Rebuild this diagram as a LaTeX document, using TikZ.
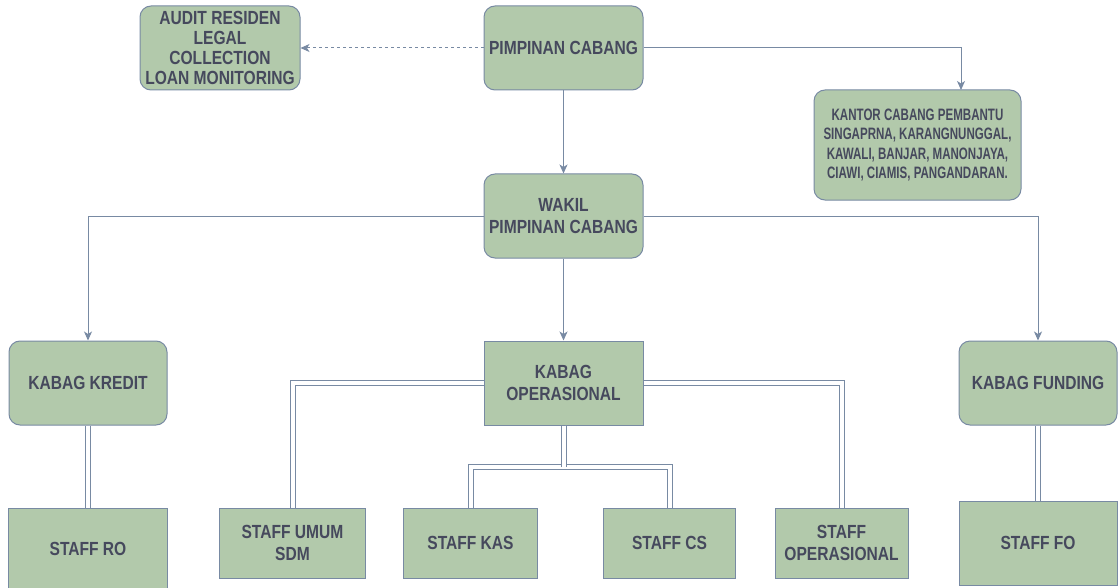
\documentclass[tikz,border=0pt]{standalone}
\usepackage{fontspec}
\setmainfont{Liberation Sans}[FakeStretch=0.82]
\newfontfamily\narrowsans{Liberation Sans}[FakeStretch=0.70]
\usetikzlibrary{arrows.meta}
\definecolor{boxfill}{HTML}{B2C9AB}
\definecolor{boxline}{HTML}{788AA3}
\definecolor{boxtext}{HTML}{46495D}
\tikzset{
  x=1pt,y=-1pt,
  orgbox/.style={draw=boxline,fill=boxfill,line width=1pt,text=boxtext,
    font=\fontsize{19}{20}\selectfont\bfseries,align=center,inner sep=0pt,anchor=center},
  twoline/.style={font=\fontsize{19}{22}\selectfont\bfseries},
  rbox/.style={orgbox,rounded corners=11pt},
  arr/.style={draw=boxline,line width=1pt,-{Stealth[length=9pt,width=8pt,inset=2.5pt]}},
  dasharr/.style={arr,dash pattern=on 3pt off 3pt},
  dbl/.style={draw=boxline,line width=1pt,double=white,double distance=4pt},
}
\begin{document}
\begin{tikzpicture}
\useasboundingbox (0,0) rectangle (1118,588);
\node[rbox,minimum width=159pt,minimum height=84pt] (pc) at (563.5,48) {PIMPINAN CABANG};
\node[rbox,minimum width=160pt,minimum height=84pt] (audit) at (220,48) {AUDIT RESIDEN\\LEGAL\\COLLECTION\\LOAN MONITORING};
\node[rbox,minimum width=207pt,minimum height=110pt,font=\narrowsans\fontsize{16.5}{19.5}\selectfont\bfseries] (kcp) at (917.5,145) {KANTOR CABANG PEMBANTU\\SINGAPRNA, KARANGNUNGGAL,\\KAWALI, BANJAR, MANONJAYA,\\CIAWI, CIAMIS, PANGANDARAN.};
\node[rbox,twoline,minimum width=159pt,minimum height=84pt] (wakil) at (563.5,216) {WAKIL\\PIMPINAN CABANG};
\node[rbox,minimum width=158pt,minimum height=84pt] (kredit) at (88,383) {KABAG KREDIT};
\node[orgbox,twoline,minimum width=159pt,minimum height=84pt] (kop) at (563.5,383) {KABAG\\OPERASIONAL};
\node[rbox,minimum width=158pt,minimum height=84pt] (funding) at (1038,383) {KABAG FUNDING};
\node[orgbox,minimum width=159pt,minimum height=82pt] (ro) at (88,549) {STAFF RO};
\node[orgbox,twoline,minimum width=146pt,minimum height=70pt] (umum) at (292.5,543) {STAFF UMUM\\SDM};
\node[orgbox,minimum width=134pt,minimum height=70pt] (kas) at (470.5,543) {STAFF KAS};
\node[orgbox,minimum width=132pt,minimum height=70pt] (cs) at (669.5,543) {STAFF CS};
\node[orgbox,twoline,minimum width=133pt,minimum height=70pt] (sop) at (841.5,543) {STAFF\\OPERASIONAL};
\node[orgbox,minimum width=158pt,minimum height=84pt] (fo) at (1038,543) {STAFF FO};
\coordinate (kcpin) at (961,90);
\coordinate (split) at (563.5,467);
% arrows
\draw[dasharr] (pc.west) -- (audit.east);
\draw[arr] (pc.east) -| (kcpin);
\draw[arr] (pc.south) -- (wakil.north);
\draw[arr] (wakil.west) -| (kredit.north);
\draw[arr] (wakil.south) -- (kop.north);
\draw[arr] (wakil.east) -| (funding.north);
% double links
\draw[dbl] (kredit.south) -- (ro.north);
\draw[dbl] (funding.south) -- (fo.north);
\draw[dbl] (kop.west) -| (umum.north);
\draw[dbl] (kop.east) -| (sop.north);
\draw[dbl] (kop.south) -- (split) -| (kas.north);
\draw[dbl] (split) -| (cs.north);
\draw[dbl] (kop.south) -- (split);
\end{tikzpicture}
\end{document}
